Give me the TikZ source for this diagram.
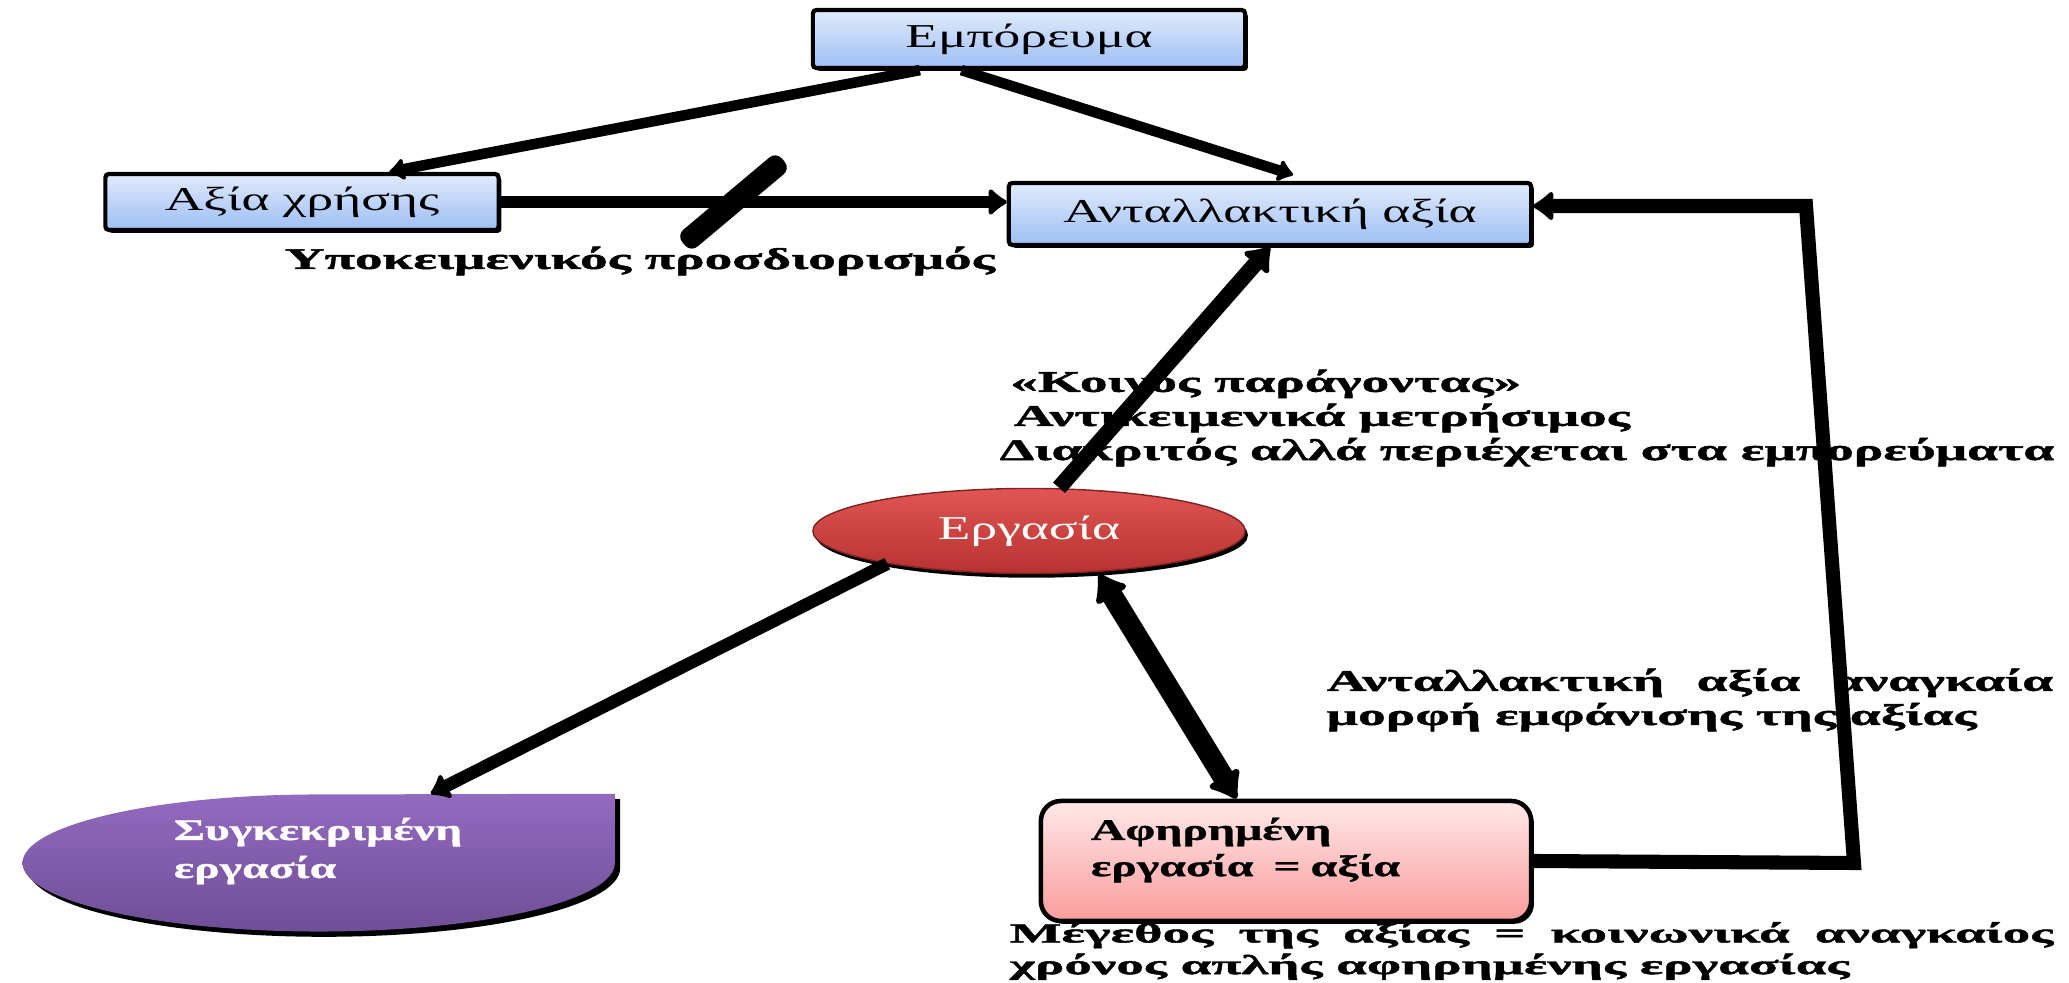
\documentclass[tikz,border=0pt]{standalone}
\usepackage{fontspec}
\setmainfont{Liberation Serif}[FakeStretch=1.6]
\newfontfamily\heavy{Liberation Serif}[UprightFont={* Bold},FakeStretch=1.6,FakeBold=1]
\newfontfamily\wideheavy{Liberation Serif}[UprightFont={* Bold},FakeStretch=1.85,FakeBold=1.6]
\newfontfamily\flatheavy{Liberation Serif}[UprightFont={* Bold},FakeStretch=2.0,FakeBold=1.6]
\usetikzlibrary{positioning,shapes.geometric,shadows,arrows.meta,calc,backgrounds}

\definecolor{boxtop}{RGB}{224,235,252}
\definecolor{boxbot}{RGB}{158,190,244}
\definecolor{redtop}{RGB}{224,86,84}
\definecolor{redbot}{RGB}{182,50,48}
\definecolor{purtop}{RGB}{148,106,192}
\definecolor{purbot}{RGB}{110,78,150}
\definecolor{pinktop}{RGB}{255,232,232}
\definecolor{pinkbot}{RGB}{250,156,156}

\begin{document}
\begin{tikzpicture}[x=0.01cm, y=-0.01cm,
  bluebox/.style={rectangle, draw=black, line width=1.2pt, rounded corners=1pt,
    top color=boxtop, bottom color=boxbot, inner sep=0pt,
    font=\fontsize{9.5}{11}\selectfont,
    drop shadow={shadow xshift=0.8pt, shadow yshift=-0.8pt, fill=black, opacity=1}},
  redoval/.style={ellipse, draw=redbot!70!black, top color=redtop, bottom color=redbot,
    inner sep=0pt, text=white, font=\fontsize{9.5}{11}\selectfont,
    drop shadow={shadow xshift=0.8pt, shadow yshift=-1.2pt, fill=black, opacity=1}},
  pinkbox/.style={rectangle, draw=black, line width=1.3pt, rounded corners=0.2cm,
    top color=pinktop, bottom color=pinkbot, align=left, inner xsep=0.5cm,
    font=\heavy\fontsize{8.5}{10.3}\selectfont,
    drop shadow={shadow xshift=0.8pt, shadow yshift=-0.8pt, fill=black, opacity=1}},
  note/.style={inner sep=0pt, align=left, font=\wideheavy\fontsize{8.5}{9.7}\selectfont},
  link/.style={line width=#1, -{Latex[round,length=0pt 1.6,width=0pt 2.6]}},
  twoway/.style={line width=#1, {Latex[round,length=0pt 1.4,width=0pt 2.1]}-{Latex[round,length=0pt 1.4,width=0pt 2.1]}},
  slashbar/.style={fill=black, rotate=40, minimum width=1.3cm, minimum height=0.22cm,
    inner sep=0pt, rounded corners=2.5pt}
]
\useasboundingbox (0,0) rectangle (2069,983);

% boxes
\node[bluebox, minimum width=4.32cm, minimum height=0.58cm] (embor) at (1029,39) {Εμπόρευμα};
\node[bluebox, minimum width=3.93cm, minimum height=0.56cm] (axiachr) at (302,202) {Αξία χρήσης};
\node[bluebox, minimum width=5.22cm, minimum height=0.62cm] (antaxia) at (1270,214) {Ανταλλακτική αξία};
\node[redoval, minimum width=4.32cm, minimum height=0.85cm] (ergasia) at (1029,531) {Εργασία};
\node[pinkbox, text width=3.9cm, minimum width=4.89cm, minimum height=1.2cm] (abstr) at (1286,861)
  {Αφηρημένη\\εργασία \ = αξία\\[-2.3pt]\mbox{}};

% purple shape, flat top right corner
\node[inner sep=0pt, minimum width=5.92cm, minimum height=1.37cm, align=left, text=white,
  font=\heavy\fontsize{8.5}{10.8}\selectfont] (synkek) at (318,863) {Συγκεκριμένη\\εργασία\\[-2.2pt]\mbox{}};
\begin{scope}[on background layer]
\begin{scope}[transform canvas={shift={(1.5pt,-1.5pt)}}]
\fill[black] (synkek.north east) -- (synkek.east)
  arc[start angle=0, end angle=-180, x radius=2.96cm, y radius=0.685cm]
  arc[start angle=180, end angle=90, x radius=2.96cm, y radius=0.685cm] -- cycle;
\end{scope}
\shade[top color=purtop, bottom color=purbot] (synkek.north east) -- (synkek.east)
  arc[start angle=0, end angle=-180, x radius=2.96cm, y radius=0.685cm]
  arc[start angle=180, end angle=90, x radius=2.96cm, y radius=0.685cm] -- cycle;
\end{scope}

% notes
\node[note, anchor=west] (subj) at (284,261) {Υποκειμενικός προσδιορισμός};
\node[note, anchor=west] (koinos) at (999,418)
  {\hspace*{3pt}«Κοινός παράγοντας»\\\hspace*{4pt}Αντικειμενικά μετρήσιμος\\Διακριτός αλλά περιέχεται στα εμπορεύματα};
\node[note, anchor=west] (exch) at (1326,700)
  {\makebox[7.26cm][s]{Ανταλλακτική αξία αναγκαία}\\μορφή εμφάνισης της αξίας};
\node[note, anchor=west, font=\flatheavy\fontsize{7.8}{9}\selectfont] (measure) at (1009,951)
  {\makebox[10.43cm][s]{Μέγεθος της αξίας = κοινωνικά αναγκαίος}\\χρόνος απλής αφηρημένης εργασίας};

% corners of the return line
\coordinate (fbbot) at (1854,863);
\coordinate (fbtop) at (1806,206);

% connectors
\draw[link=3pt] ($(embor.south west)!0.25!(embor.south east)$) -- ($(axiachr.north west)!0.72!(axiachr.north east)$);
\draw[link=3pt, shorten >=0.2cm] ($(embor.south west)!0.345!(embor.south east)$) -- ($(antaxia.north west)!0.58!(antaxia.north east)$);
\draw[link=3.6pt] (axiachr.east) -- (axiachr.east -| antaxia.west) node[pos=0.46, slashbar] {};
\draw[link=4.5pt] ([xshift=0.3cm]ergasia.north) -- (antaxia.south);
\draw[link=3.6pt] (ergasia.193) -- ($(synkek.north west)!0.69!(synkek.north east)$);
\draw[twoway=6pt] ([xshift=0.7cm]ergasia.south) -- ($(abstr.north west)!0.4!(abstr.north east)$);
\draw[link=4pt] (abstr.east) -- (fbbot) -- (fbtop) -- (fbtop -| antaxia.east);

\end{tikzpicture}
\end{document}
